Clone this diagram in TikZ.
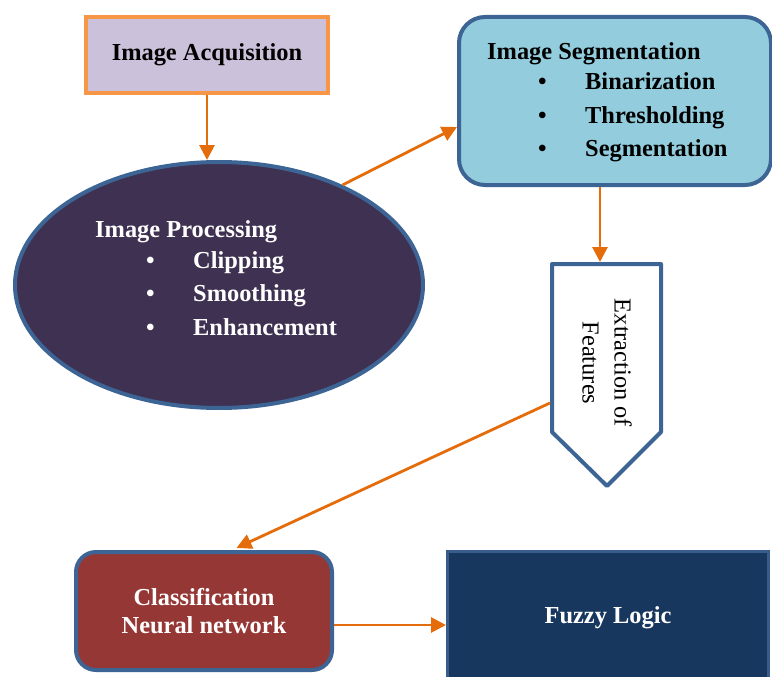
\documentclass[tikz,border=0pt]{standalone}
\usepackage{fontspec}
\setmainfont{Liberation Serif}
\usepackage{graphicx,xcolor}
\usetikzlibrary{shapes.geometric,arrows.meta,calc,positioning}
\definecolor{acqfill}{HTML}{CCC1DA}
\definecolor{acqline}{HTML}{F79646}
\definecolor{procfill}{HTML}{3F3151}
\definecolor{segfill}{HTML}{93CDDD}
\definecolor{boxline}{HTML}{3C6494}
\definecolor{clffill}{HTML}{953735}
\definecolor{fuzzyfill}{HTML}{17375E}
\definecolor{fuzzyline}{HTML}{385D8A}
\definecolor{arrorange}{HTML}{E46C0A}
\newcommand{\itm}[1]{\hspace*{51pt}\makebox[47pt][l]{\textbullet}#1}

\begin{document}
\begin{tikzpicture}[x=1pt,y=-1pt]
	\tikzstyle{txt} = [font=\fontsize{24.4}{33.5}\selectfont\bfseries, inner sep=0pt]
	\tikzstyle{flow} = [draw=arrorange, line width=2.8pt, -{Triangle[length=15pt,width=15pt]}]
	\tikzstyle{stage} = [draw=boxline, line width=4pt, inner sep=0pt]
\useasboundingbox (0,0) rectangle (772,677);
\node[stage, draw=acqline, fill=acqfill, minimum width=242, minimum height=76, txt] (acq) at (207,55) {Image Acquisition};
\node[stage, ellipse, fill=procfill, minimum width=408, minimum height=246] (proc) at (219,285) {};
\node[txt, text=white, align=left, anchor=north west] (proctxt) at (95,220.5) {Image Processing\\[-3pt]\itm{Clipping}\\\itm{Smoothing}\\\itm{Enhancement}};
\node[stage, rounded corners=26pt, fill=segfill, minimum width=312, minimum height=168] (seg) at (615,101) {};
\node[txt, align=left, anchor=north west] (segtxt) at (487,42) {Image Segmentation\\[-3pt]\itm{Binarization}\\\itm{Thresholding}\\\itm{Segmentation}};
\path[draw=boxline, line width=4pt, fill=white, line join=round] (552,264) -- (661,264) -- (661,432) -- (607,486) -- (552,432) -- cycle;
\coordinate (featN) at (600,262);
\coordinate (featW) at (550,403);
\node[font=\fontsize{24.4}{32}\selectfont, rotate=-90, align=center, inner sep=0pt] (feat) at (607,363) {Extraction of\\Features};
\node[stage, rounded corners=20pt, fill=clffill, minimum width=256, minimum height=118, txt, text=white, align=center, font=\fontsize{24.4}{28}\selectfont\bfseries] (clf) at (204,611) {Classification\\Neural network};
\node[stage, draw=fuzzyline, line width=3pt, fill=fuzzyfill, minimum width=321, minimum height=148] (fuzzy) at (608,625.75) {};
\node[txt, text=white] (fuzzytxt) at (608,618) {Fuzzy Logic};

	\path[flow] (acq.south) -- (acq.south |- proc.north);
	\path[flow] (proc.39) -- ([yshift=-26pt]seg.west);
	\path[flow] (seg.south -| featN) -- (featN);
	\path[flow, shorten >=5pt] (featW) -- ([xshift=28pt]clf.north);
	\path[flow] ([yshift=-14pt]clf.east) -- ([yshift=-14pt]clf.east -| fuzzy.west);
\end{tikzpicture}
\end{document}
